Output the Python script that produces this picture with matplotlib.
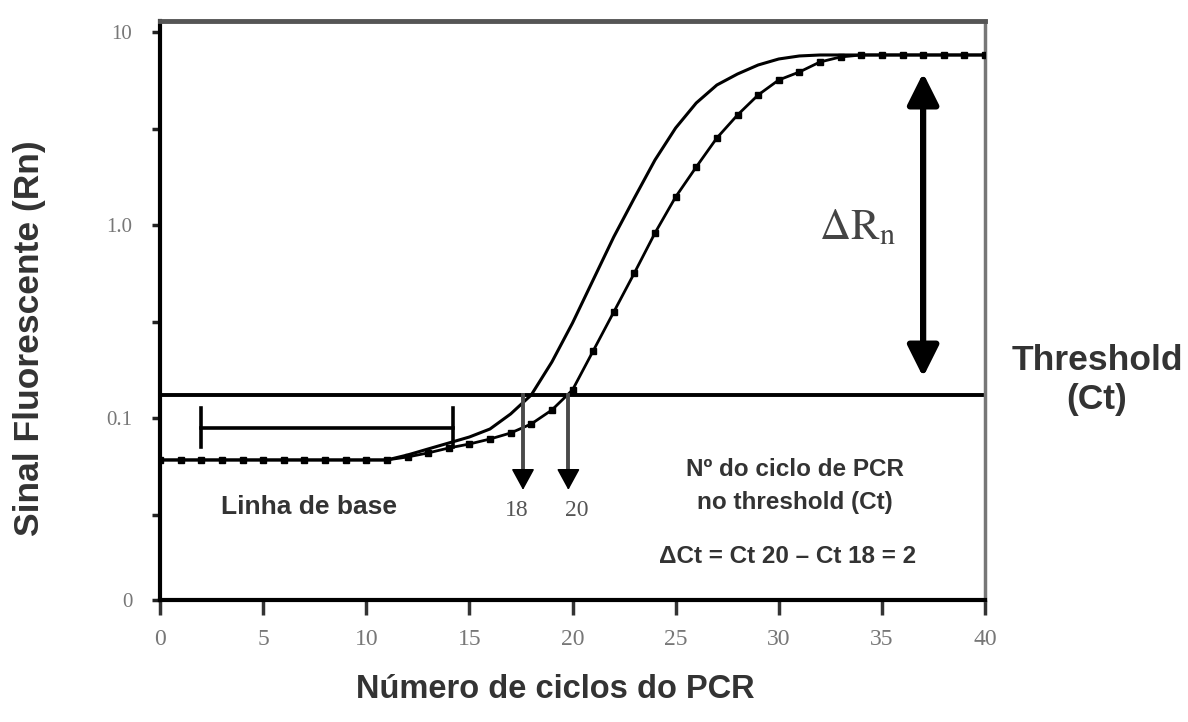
import matplotlib
matplotlib.use("Agg")
import matplotlib.pyplot as plt
from matplotlib.ticker import FixedLocator, NullFormatter

# ---------------- data ----------------
cycles = list(range(41))
# Curve A (earlier amplification, Ct ~ 18)
rn_a = [0.0606, 0.0606, 0.0606, 0.0606, 0.0606, 0.0606, 0.0606, 0.0606,
        0.0606, 0.0606, 0.0606, 0.0606, 0.0643, 0.0691, 0.0742, 0.0797,
        0.0877, 0.1049, 0.1316, 0.195, 0.3105, 0.519, 0.867, 1.380,
        2.172, 3.181, 4.287, 5.313, 6.058, 6.745, 7.246, 7.512,
        7.60, 7.60, 7.60, 7.60, 7.60, 7.60, 7.60, 7.60, 7.60]
# Curve B (later amplification, Ct ~ 20, with markers)
rn_b = [0.0606, 0.0606, 0.0606, 0.0606, 0.0606, 0.0606, 0.0606, 0.0606,
        0.0606, 0.0606, 0.0606, 0.0606, 0.0628, 0.0659, 0.0699, 0.0733,
        0.0778, 0.0836, 0.0931, 0.110, 0.1397, 0.2224, 0.354, 0.564,
        0.909, 1.397, 1.998, 2.824, 3.715, 4.716, 5.640, 6.204,
        6.992, 7.423, 7.60, 7.60, 7.60, 7.60, 7.60, 7.60, 7.60]
threshold = 0.1316
baseline_range = [2.0, 14.2]
baseline_bar_rn = 0.0889
baseline_bar_ends = [0.0707, 0.1127]
ct_arrow_x = [17.6, 19.8]
ct_labels = ["18", "20"]
ct_label_x = [17.3, 20.2]
delta_rn_x = 37.0
delta_rn_span = [0.163, 6.13]

x_ticks = [0, 5, 10, 15, 20, 25, 30, 35, 40]
y_ticks = [0.0114, 0.1, 1.0, 10.0]
y_tick_labels = ["0", "0.1", "1.0", "10"]
y_minor = [0.0316, 0.316, 3.16]

# ---------------- figure ----------------
W, H = 1188, 722
fig = plt.figure(figsize=(W / 100, H / 100), dpi=100)
ax = fig.add_axes([160 / W, 1 - 600 / H, (985 - 160) / W, (600 - 21) / H])

ax.set_yscale("log")
ax.set_xlim(0, 40)
ax.set_ylim(0.0114, 11.4)

# curves
ax.plot(cycles, rn_a, color="black", lw=2.2, zorder=3)
ax.plot(cycles, rn_b, color="black", lw=2.0, marker="s", markersize=4.8,
        zorder=3)

# threshold line
ax.axhline(threshold, color="black", lw=2.8, zorder=2)

# baseline range bar
ax.plot(baseline_range, [baseline_bar_rn, baseline_bar_rn], color="black",
        lw=2.6, zorder=2)
for bx in baseline_range:
    ax.plot([bx, bx], baseline_bar_ends, color="black", lw=2.6, zorder=2)

# Ct arrows: grey shaft, black head
tip = 0.0424
head_base = 0.0500
for cx in ct_arrow_x:
    ax.plot([cx, cx], [threshold, head_base], color="#4a4a4a", lw=2.8,
            zorder=4)
    ax.annotate("", xy=(cx, tip), xytext=(cx, head_base * 1.02),
                arrowprops=dict(arrowstyle="-|>,head_length=0.55,head_width=0.3",
                                color="black", lw=1.2,
                                mutation_scale=24, shrinkA=0, shrinkB=0),
                zorder=5)
for lx, lab in zip(ct_label_x, ct_labels):
    ax.text(lx, 0.0333, lab, ha="center", va="center",
            family="Liberation Serif", fontsize=17, color="#555555")

# Delta Rn double arrow
ax.annotate("", xy=(delta_rn_x, delta_rn_span[1]),
            xytext=(delta_rn_x, delta_rn_span[0]),
            arrowprops=dict(arrowstyle="<|-|>,head_length=0.5,head_width=0.25",
                            color="black", lw=4.5,
                            mutation_scale=38, shrinkA=0, shrinkB=0))
plt.rcParams["mathtext.fontset"] = "stix"
ax.text(33.8, 0.977, r"$\Delta\mathrm{R}_{\mathrm{n}}$", ha="center",
        va="center", fontsize=31, color="#444444")

# annotations
bold = dict(family="Liberation Sans", fontweight="bold", color="#333333")
ax.text(7.22, 0.0344, "Linha de base", ha="center", va="center",
        fontsize=19, **bold)
ax.text(30.78, 0.0538, "Nº do ciclo de PCR", ha="center", va="center",
        fontsize=17.5, **bold)
ax.text(30.78, 0.0367, "no threshold (Ct)", ha="center", va="center",
        fontsize=17.5, **bold)
ax.text(30.44, 0.01905, "ΔCt = Ct 20 – Ct 18 = 2", ha="center",
        va="center", fontsize=17.5, **bold)

# outside texts
fig.text(1097 / W, 1 - 360 / H, "Threshold", ha="center", va="center",
         fontsize=25.5, **bold)
fig.text(1097 / W, 1 - 400 / H, "(Ct)", ha="center", va="center",
         fontsize=25.5, **bold)
fig.text(555 / W, 1 - 690 / H, "Número de ciclos do PCR", ha="center",
         va="center", fontsize=23.5, **bold)
fig.text(30 / W, 1 - 338 / H, "Sinal Fluorescente (Rn)", ha="center",
         va="center", rotation=90, fontsize=25.5, **bold)

# ticks
ax.yaxis.set_major_locator(FixedLocator(y_ticks))
ax.set_yticklabels(y_tick_labels)
ax.yaxis.set_minor_locator(FixedLocator(y_minor))
ax.yaxis.set_minor_formatter(NullFormatter())
ax.set_xticks(x_ticks)
ax.set_xticklabels([str(t) for t in x_ticks])
ax.tick_params(axis="x", direction="out", length=11, width=2.5,
               colors="#333333", pad=10, labelsize=17, labelcolor="#777777")
ax.tick_params(axis="y", which="both", direction="out", length=6, width=2.5,
               colors="#222222", pad=14, labelsize=15, labelcolor="#777777")
for lab in ax.get_xticklabels() + ax.get_yticklabels():
    lab.set_family("Liberation Serif")

# spines
ax.spines["left"].set_linewidth(3.0)
ax.spines["left"].set_color("black")
ax.spines["bottom"].set_linewidth(3.0)
ax.spines["bottom"].set_color("black")
ax.spines["top"].set_linewidth(3.5)
ax.spines["top"].set_color("#555555")
ax.spines["right"].set_linewidth(2.5)
ax.spines["right"].set_color("#777777")

fig.savefig("out.png", dpi=100)
